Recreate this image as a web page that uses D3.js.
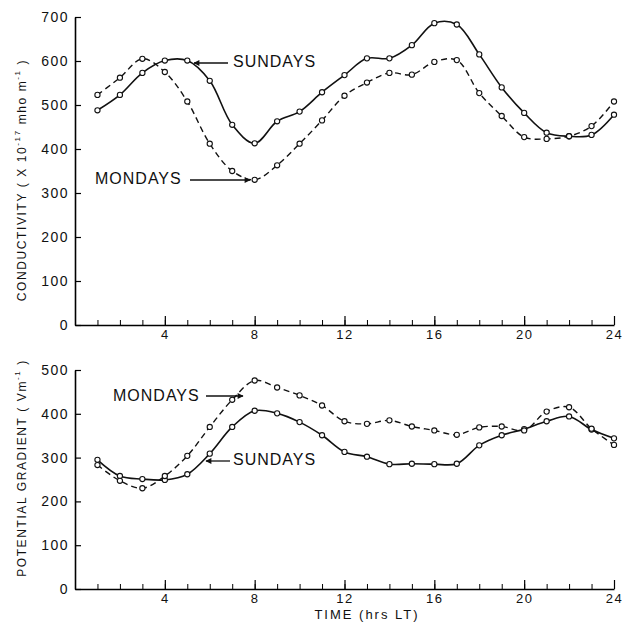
<!DOCTYPE html>
<html>
<head>
<meta charset="utf-8">
<script src="https://cdn.jsdelivr.net/npm/d3@7"></script>
<style>
  body { margin: 0; background: #fff; }
  text { font-family: "Liberation Sans", Arial, sans-serif; fill: #111; }
</style>
</head>
<body>
<script>
// hours of local time, one point per hour
var hours = d3.range(1, 25);

// conductivity (x 10^-17 mho m^-1)
var condSundays = [488, 523, 573, 601, 601, 555, 455, 413, 463, 485, 529, 568,
                   606, 606, 636, 686, 683, 615, 540, 482, 437, 429, 432, 478];
var condMondays = [523, 562, 605, 575, 508, 412, 350, 330, 363, 412, 465, 521,
                   551, 573, 569, 598, 602, 527, 475, 427, 423, 429, 452, 508];

// potential gradient (V m^-1)
var pgSundays = [295, 258, 251, 249, 262, 309, 370, 407, 401, 381, 351, 313,
                 302, 285, 286, 285, 286, 328, 351, 365, 383, 394, 364, 344];
var pgMondays = [283, 247, 230, 258, 304, 370, 432, 476, 460, 442, 419, 383,
                 377, 385, 371, 362, 352, 369, 371, 362, 405, 415, 366, 329];

var xMajor = [4, 8, 12, 16, 20, 24];
var condTicks = [0, 100, 200, 300, 400, 500, 600, 700];
var pgTicks = [0, 100, 200, 300, 400, 500];

var svg = d3.select("body").append("svg")
	.attr("width", 626)
	.attr("height", 627);

svg.append("defs").append("marker")
	.attr("id", "arrow")
	.attr("viewBox", "0 0 10 10")
	.attr("refX", 9).attr("refY", 5)
	.attr("markerWidth", 9).attr("markerHeight", 6)
	.attr("markerUnits", "userSpaceOnUse")
	.attr("orient", "auto")
	.append("path").attr("d", "M0,0L10,5L0,10Z").attr("fill", "#111");

var x = d3.scaleLinear().domain([0, 24]).range([75, 614]);
var yTop = d3.scaleLinear().domain([0, 700]).range([325, 17]);
var yBot = d3.scaleLinear().domain([0, 500]).range([589, 370]);

function drawPanel(y, ticks, sun, mon) {
	var y0 = y.range()[0];

	// hour ticks (minor) and 4-hour ticks (major), pointing up into the plot
	svg.append("g")
		.attr("transform", "translate(0," + y0 + ")")
		.call(d3.axisBottom(x).tickValues(hours).tickSizeInner(-5).tickSizeOuter(0).tickFormat(""))
		.call(function(g){ g.select(".domain").remove(); });
	var xa = svg.append("g")
		.attr("transform", "translate(0," + y0 + ")")
		.call(d3.axisBottom(x).tickValues(xMajor).tickSizeInner(-9).tickSizeOuter(0).tickPadding(5));
	xa.select(".domain").attr("stroke-width", 1.6);
	xa.selectAll("text").attr("font-size", 13).attr("letter-spacing", 1.5);

	var ya = svg.append("g")
		.attr("transform", "translate(" + x(0) + ",0)")
		.call(d3.axisLeft(y).tickValues(ticks).tickSizeInner(-6).tickSizeOuter(0).tickPadding(6));
	ya.select(".domain").attr("stroke-width", 1.6);
	ya.selectAll("text").attr("font-size", 14).attr("letter-spacing", 1.5);
	ya.selectAll("line").attr("stroke-width", 1.2);
	xa.selectAll("line").attr("stroke-width", 1.2);

	var line = d3.line()
		.x(function(d, i){ return x(hours[i]); })
		.y(function(d){ return y(d); })
		.curve(d3.curveCatmullRom);

	svg.append("path").datum(sun)
		.attr("d", line).attr("fill", "none")
		.attr("stroke", "#111").attr("stroke-width", 1.6);
	svg.append("path").datum(mon)
		.attr("d", line).attr("fill", "none")
		.attr("stroke", "#111").attr("stroke-width", 1.4)
		.attr("stroke-dasharray", "6,4");

	[sun, mon].forEach(function(s){
		svg.append("g").selectAll("circle")
			.data(s).enter().append("circle")
			.attr("cx", function(d, i){ return x(hours[i]); })
			.attr("cy", function(d){ return y(d); })
			.attr("r", 2.6)
			.attr("fill", "#fff").attr("stroke", "#111").attr("stroke-width", 1.1);
	});
}

drawPanel(yTop, condTicks, condSundays, condMondays);
drawPanel(yBot, pgTicks, pgSundays, pgMondays);

function label(txt, tx, ty, x1, x2, ay) {
	svg.append("text").attr("x", tx).attr("y", ty)
		.attr("font-size", 16).attr("letter-spacing", 1)
		.attr("dominant-baseline", "middle")
		.text(txt);
	svg.append("line")
		.attr("x1", x1).attr("y1", ay).attr("x2", x2).attr("y2", ay)
		.attr("stroke", "#111").attr("stroke-width", 1.3)
		.attr("marker-end", "url(#arrow)");
}

label("SUNDAYS", 233, 63, 228, 194, 63);
label("MONDAYS", 95, 180, 190, 250, 180);
label("MONDAYS", 113, 397, 206, 243, 396);
label("SUNDAYS", 233, 461, 230, 206, 461);

// y axis titles
var t1 = svg.append("text")
	.attr("transform", "translate(26,180) rotate(-90)")
	.attr("text-anchor", "middle")
	.attr("font-size", 12).attr("letter-spacing", 1.6);
t1.append("tspan").text("CONDUCTIVITY ( X 10");
t1.append("tspan").attr("dy", -6).attr("font-size", 8).text("-17");
t1.append("tspan").attr("dy", 6).text(" mho m");
t1.append("tspan").attr("dy", -6).attr("font-size", 8).text("-1");
t1.append("tspan").attr("dy", 6).text(" )");

var t2 = svg.append("text")
	.attr("transform", "translate(26,468) rotate(-90)")
	.attr("text-anchor", "middle")
	.attr("font-size", 12).attr("letter-spacing", 1.6);
t2.append("tspan").text("POTENTIAL  GRADIENT ( Vm");
t2.append("tspan").attr("dy", -6).attr("font-size", 8).text("-1");
t2.append("tspan").attr("dy", 6).text(" )");

// x axis title
svg.append("text")
	.attr("x", 367).attr("y", 619)
	.attr("text-anchor", "middle")
	.attr("font-size", 13).attr("letter-spacing", 2)
	.text("TIME (hrs  LT)");
</script>
</body>
</html>
